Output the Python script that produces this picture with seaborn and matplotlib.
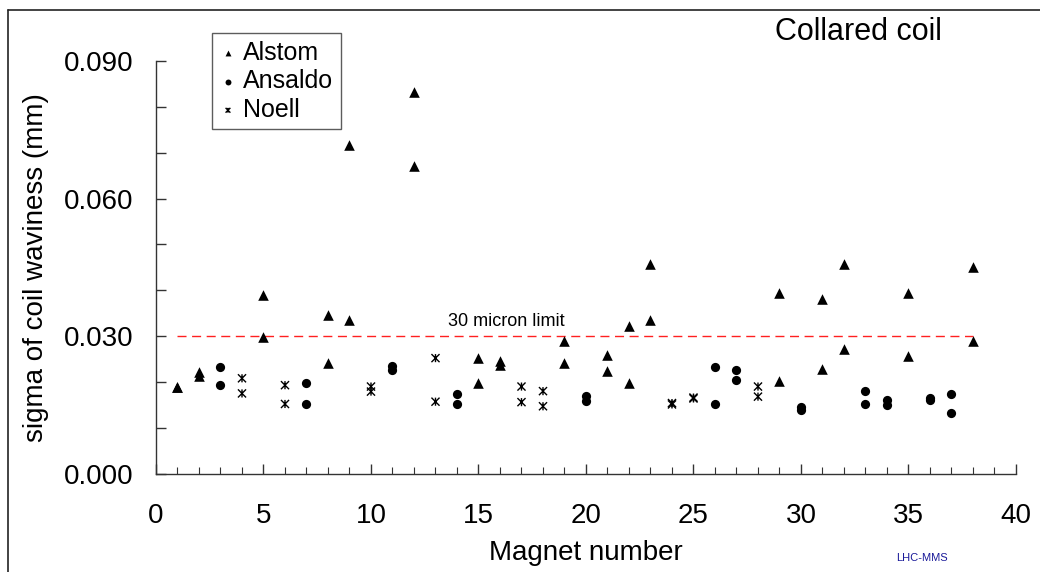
import numpy as np
import pandas as pd
import matplotlib
matplotlib.use("Agg")
import matplotlib.pyplot as plt
from matplotlib.path import Path
from matplotlib.lines import Line2D
from matplotlib.ticker import MultipleLocator, FormatStrFormatter
import seaborn as sns

sns.set_theme(style="white")
plt.rcParams["font.family"] = ["Liberation Sans", "DejaVu Sans"]
plt.rcParams["text.color"] = "black"
plt.rcParams["axes.labelcolor"] = "black"
plt.rcParams["xtick.color"] = "black"
plt.rcParams["ytick.color"] = "black"

# === Data ===
alstom_magnet = [1, 1, 2, 2, 5, 5, 8, 8, 9, 9, 12, 12, 15, 15, 16, 16, 19, 19,
                 21, 21, 22, 22, 23, 23, 29, 29, 31, 31, 32, 32, 35, 35, 38, 38]
alstom_sigma = [0.0190, 0.0189, 0.0221, 0.0212, 0.0389, 0.0298, 0.0346, 0.0241,
                0.0716, 0.0336, 0.0833, 0.0671, 0.0252, 0.0197, 0.0245, 0.0236,
                0.0290, 0.0241, 0.0259, 0.0224, 0.0321, 0.0197, 0.0457, 0.0336,
                0.0395, 0.0203, 0.0380, 0.0229, 0.0457, 0.0272, 0.0393, 0.0257,
                0.0451, 0.0290]

ansaldo_magnet = [3, 3, 7, 7, 11, 11, 14, 14, 20, 20, 26, 26, 27, 27, 30, 30,
                  33, 33, 34, 34, 36, 36, 37, 37]
ansaldo_sigma = [0.0232, 0.0194, 0.0197, 0.0153, 0.0234, 0.0227, 0.0174, 0.0152,
                 0.0170, 0.0159, 0.0232, 0.0153, 0.0225, 0.0205, 0.0146, 0.0139,
                 0.0181, 0.0153, 0.0160, 0.0150, 0.0166, 0.0160, 0.0173, 0.0132]

noell_magnet = [4, 4, 6, 6, 10, 10, 13, 13, 17, 17, 18, 18, 24, 24, 25, 25, 28, 28]
noell_sigma = [0.0208, 0.0175, 0.0193, 0.0152, 0.0190, 0.0179, 0.0252, 0.0157,
               0.0190, 0.0156, 0.0180, 0.0147, 0.0154, 0.0151, 0.0166, 0.0164,
               0.0190, 0.0168]

limit_x = [1, 38]
limit_y = [0.030, 0.030]

# excel-like star marker: X with a vertical bar
star = Path([(-1, -1), (1, 1), (-1, 1), (1, -1), (0, -1), (0, 1)],
            [Path.MOVETO, Path.LINETO, Path.MOVETO, Path.LINETO, Path.MOVETO, Path.LINETO])

fig = plt.figure(figsize=(10.4, 5.72), dpi=100)
ax = fig.add_axes([0.15, 0.1719, 0.8269, 0.7215])

sns.lineplot(x=limit_x, y=limit_y, ax=ax, color="#ff2020", linewidth=1.0,
             dashes=False, zorder=1)
ax.lines[-1].set_dashes((6.5, 4))

sns.scatterplot(x=alstom_magnet, y=alstom_sigma, ax=ax, marker="^", s=58,
                color="black", edgecolor="black", linewidth=0, label="Alstom", zorder=3)
sns.scatterplot(x=ansaldo_magnet, y=ansaldo_sigma, ax=ax, marker="o", s=44,
                color="black", edgecolor="black", linewidth=0, label="Ansaldo", zorder=3)
sns.scatterplot(x=noell_magnet, y=noell_sigma, ax=ax, marker=star, s=34,
                facecolor="none", edgecolor="black", linewidth=1.0,
                label="Noell", zorder=3)

ax.set_xlim(0, 40)
ax.set_ylim(0, 0.090)
ax.xaxis.set_major_locator(MultipleLocator(5))
ax.xaxis.set_minor_locator(MultipleLocator(1))
ax.yaxis.set_major_locator(MultipleLocator(0.030))
ax.yaxis.set_minor_locator(MultipleLocator(0.010))
ax.yaxis.set_major_formatter(FormatStrFormatter("%.3f"))

for s in ["top", "right"]:
    ax.spines[s].set_visible(False)
for s in ["left", "bottom"]:
    ax.spines[s].set_color("#333333")
    ax.spines[s].set_linewidth(1.0)

ax.tick_params(axis="x", which="major", direction="in", length=7, width=1,
               color="#333333", labelsize=20, pad=21, bottom=True)
ax.tick_params(axis="x", which="minor", direction="in", length=5, width=0.8,
               color="#333333", bottom=True)
ax.tick_params(axis="y", which="both", direction="in", length=7, width=1,
               color="#333333", labelsize=20, pad=16, left=True)

ax.set_xlabel("Magnet number", fontsize=20, va="center")
ax.xaxis.set_label_coords(0.5, -0.193)
ax.set_ylabel("sigma of coil waviness (mm)", fontsize=20, va="center")
ax.yaxis.set_label_coords(-0.1395, 0.5)

ax.text(13.6, 0.0323, "30 micron limit", fontsize=13, va="baseline", ha="left")
ax.text(0.8163, 1.0509, "Collared coil", fontsize=22, va="baseline", ha="center",
        transform=ax.transAxes)

leg = ax.legend(loc="upper left", bbox_to_anchor=(0.0648, 1.067), borderaxespad=0,
                fontsize=18, frameon=True, fancybox=False, edgecolor="#333333",
                borderpad=0.3, labelspacing=0.18, handlelength=0.7,
                handletextpad=0.25, scatterpoints=1)
leg.get_frame().set_linewidth(1.0)
for h in leg.legend_handles:
    h.set_sizes([18])
leg.legend_handles[2].set_sizes([12])

fig.text(921.7 / 1040, 1 - 558 / 572, "LHC-MMS", fontsize=8, color="#1a1a99",
         ha="center", va="center")

# outer frame (top and left edges visible in the reference)
fig.add_artist(Line2D([8 / 1040, 1.0], [1 - 10 / 572, 1 - 10 / 572],
                      transform=fig.transFigure, color="#222222", linewidth=1.2))
fig.add_artist(Line2D([8 / 1040, 8 / 1040], [0.0, 1 - 10 / 572],
                      transform=fig.transFigure, color="#222222", linewidth=1.2))

fig.savefig("out.png", dpi=100)
